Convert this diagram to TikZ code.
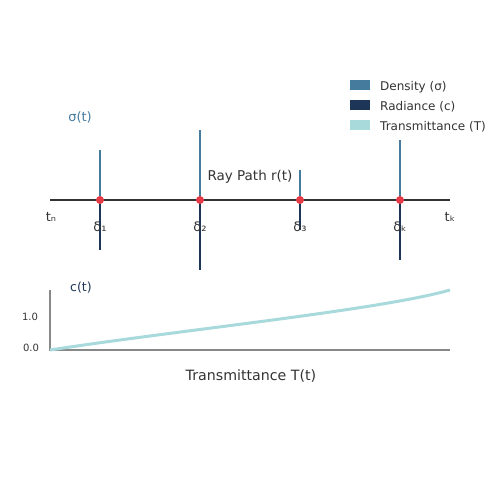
\documentclass[tikz,border=0pt]{standalone}
\usepackage{fontspec}
\setmainfont{DejaVu Sans}
\definecolor{dens}{HTML}{457B9D}
\definecolor{rad}{HTML}{1D3557}
\definecolor{trans}{HTML}{A8DADC}
\definecolor{dot}{HTML}{E63946}
\definecolor{txt}{HTML}{333333}
\definecolor{axg}{HTML}{888888}
\begin{document}
\begin{tikzpicture}[x=1pt,y=-1pt,
  dl/.style={draw=dens,line width=2pt},
  rl/.style={draw=rad,line width=2pt},
  pt/.style={circle,fill=dot,inner sep=0pt,minimum size=8pt},
  lab/.style={text=txt,font=\fontsize{12}{12}\selectfont,inner sep=0pt},
  small/.style={text=txt,font=\fontsize{10}{10}\selectfont,inner sep=0pt},
  sub/.style={text=txt,font=\fontsize{13}{13}\selectfont,inner sep=0pt},
  key/.style={minimum width=20pt,minimum height=10pt,inner sep=0pt}]
\useasboundingbox (0,0) rectangle (500,500);
% ray
\coordinate (tn) at (50,200);
\coordinate (tk) at (450,200);
\draw[txt,line width=2pt] (tn) -- (tk);
% samples
\foreach \n/\x/\up/\dn/\s in {1/100/150/250/₁,2/200/130/270/₂,3/300/170/230/₃,4/400/140/260/ₖ}{
  \coordinate (u\n) at (\x,\up);
  \coordinate (d\n) at (\x,\dn);
  \coordinate (c\n) at (\x,200);
  \draw[rl] (c\n) -- (d\n);
  \draw[dl] (c\n) -- (u\n);
  \node[pt] (p\n) at (c\n) {};
  \node[sub] (s\n) at (\x,226.5) {δ\s};
}
\node[sub] (ltn) at (51,216.5) {tₙ};
\node[sub] (ltk) at (450,216.5) {tₖ};
\node[sub,text=dens] (sig) at (80,117.5) {σ(t)};
\node[lab,font=\fontsize{13.5}{13.5}\selectfont] (ray) at (250,176.5) {Ray Path r(t)};
% legend
\node[key,fill=dens] (k1) at (360,85) {};
\node[key,fill=rad] (k2) at (360,105) {};
\node[key,fill=trans] (k3) at (360,125) {};
\node[lab,anchor=west] (l1) at (380,87.5) {Density (σ)};
\node[lab,anchor=west] (l2) at (380,106.5) {Radiance (c)};
\node[lab,anchor=west] (l3) at (380,126.5) {Transmittance (T)};
% bottom plot
\coordinate (o) at (50,350);
\coordinate (ytop) at (50,290);
\coordinate (xend) at (450,350);
\draw[axg,line width=2pt] (ytop) -- (o) -- (xend);
\draw[trans,line width=3pt] (o) .. controls (180,330) and (380,310) .. (450,290);
\node[small] (y1) at (30,317) {1.0};
\node[small] (y0) at (31,348) {0.0};
\node[sub,text=rad,font=\fontsize{12.5}{12.5}\selectfont] (ct) at (81,287.5) {c(t)};
\node[lab,font=\fontsize{14.2}{14.2}\selectfont] (tt) at (251,376.5) {Transmittance T(t)};
\end{tikzpicture}
\end{document}
